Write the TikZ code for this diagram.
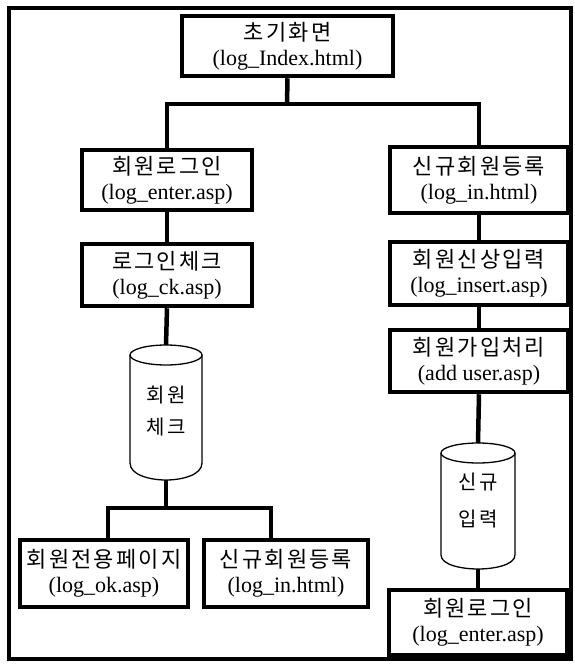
\documentclass[tikz,border=0pt]{standalone}
\usepackage{fontspec}
\setmainfont{Liberation Serif}
\newfontfamily\kr[LetterSpace=10]{Noto Sans CJK KR}
\begin{document}
\begin{tikzpicture}[x=1pt,y=-1pt,
  page/.style={line width=3.5pt},
  pagebox/.style={draw, line width=4.5pt, rectangle, inner sep=0pt, align=center,
    font=\fontsize{22}{25}\selectfont},
  link/.style={line width=4.5pt},
  drum/.style={line width=1.3pt},
  drumtext/.style={align=center, inner sep=0pt, font=\fontsize{20}{32}\selectfont}]
\useasboundingbox (0,0) rectangle (575,664);
% outer frame
\draw[page] (9,8) rectangle (571,659);

% pages
\node[pagebox, minimum width=211pt, minimum height=60pt] (top) at (287.5,46)
  {{\kr 초기화면}\\(log\_Index.html)};
\node[pagebox, minimum width=170pt, minimum height=60pt] (login) at (167,180)
  {{\kr 회원로그인}\\(log\_enter.asp)};
\node[pagebox, minimum width=170pt, minimum height=62pt] (check) at (167,275)
  {{\kr 로그인체크}\\(log\_ck.asp)};
\node[pagebox, minimum width=178pt, minimum height=66pt] (join) at (479,180)
  {{\kr 신규회원등록}\\(log\_in.html)};
\node[pagebox, minimum width=178pt, minimum height=63pt] (insert) at (479,273.5)
  {{\kr 회원신상입력}\\(log\_insert.asp)};
\node[pagebox, minimum width=178pt, minimum height=62pt] (adduser) at (479,361)
  {{\kr 회원가입처리}\\(add user.asp)};
\node[pagebox, minimum width=178pt, minimum height=65pt] (relogin) at (478,622.5)
  {{\kr 회원로그인}\\(log\_enter.asp)};
\node[pagebox, minimum width=168pt, minimum height=67pt] (members) at (104,573.5)
  {{\kr 회원전용페이지}\\(log\_ok.asp)};
\node[pagebox, minimum width=164pt, minimum height=67pt] (newjoin) at (286,573.5)
  {{\kr 신규회원등록}\\(log\_in.html)};

% member-check store
\draw[drum] (166,355) ellipse [x radius=36pt, y radius=10pt];
\draw[drum] (130,355) -- (130,463) .. controls (130,475) and (150,480) .. (166,480)
  .. controls (182,480) and (202,475) .. (202,463) -- (202,355);
\node[drumtext] (memcheck) at (166,411) {\kr 회원\\\kr 체크};
\coordinate (memcheckTop) at (166,345);
\coordinate (memcheckBot) at (166,480);

% new-entry store
\draw[drum] (478,453) ellipse [x radius=37pt, y radius=10pt];
\draw[drum] (441,453) -- (441,555) .. controls (441,565) and (462,569) .. (478,569)
  .. controls (494,569) and (515,565) .. (515,555) -- (515,453);
\node[drumtext, font=\fontsize{20}{37}\selectfont] (newentry) at (478,501) {\kr 신규\\\kr 입력};
\coordinate (newentryTop) at (478,443);
\coordinate (newentryBot) at (478,569);

% connectors
\coordinate (split) at (287,104);
\coordinate (split2) at (166,508);
\draw[link] (top.south) -- (split);
\draw[link] (login.north) -- (login.north |- split) -- (join.north |- split) -- (join.north);
\draw[link] (login.south) -- (check.north);
\draw[link] (check.south) -- (memcheckTop);
\draw[link] (memcheckBot) -- (split2);
\draw[link] ([xshift=4pt]members.north) -- ([xshift=4pt]members.north |- split2)
  -- ([xshift=-15pt]newjoin.north |- split2) -- ([xshift=-15pt]newjoin.north);
\draw[link] (join.south) -- (insert.north);
\draw[link] (insert.south) -- (adduser.north);
\draw[link] (adduser.south) -- (newentryTop);
\draw[link] (newentryBot) -- (relogin.north);
\end{tikzpicture}
\end{document}
